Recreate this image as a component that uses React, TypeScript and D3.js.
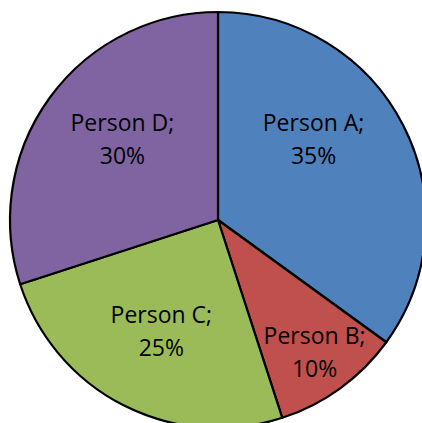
import { FC } from 'react';
import * as d3 from 'd3';

const people = ['Person A', 'Person B', 'Person C', 'Person D'];
const shares = [35, 10, 25, 30];
const sliceColors = ['#4F81BD', '#C0504D', '#9BBB59', '#8064A2'];

const width = 422;
const height = 423;
const cx = 218;
const cy = 220;
const radius = 208;
const lineHeight = 33;

const PieChart: FC = () => {
  const pie = d3.pie<number>().sort(null).value(d => d);
  const arcs = pie(shares);

  const arc = d3.arc<d3.PieArcDatum<number>>()
      .innerRadius(0)
      .outerRadius(radius);

  // Excel-ish best fit: narrow slices push the label outward,
  // and labels stay within 50deg of the vertical axis
  const labelPos = (d: d3.PieArcDatum<number>) => {
    const span = d.endAngle - d.startAngle;
    const r = span < Math.PI * 0.3 ? radius * 0.79 : radius * 0.6;
    let a = (d.startAngle + d.endAngle) / 2;
    const maxOff = (50 * Math.PI) / 180;
    const fromTop = Math.atan2(Math.sin(a), Math.cos(a)); // -pi..pi
    const off = Math.abs(fromTop) > Math.PI / 2 ? Math.PI - Math.abs(fromTop) : Math.abs(fromTop);
    if (off > maxOff) {
      const sx = Math.sign(Math.sin(a));
      const up = Math.cos(a) > 0;
      a = up ? sx * maxOff : sx * (Math.PI - maxOff);
    }
    return [r * Math.sin(a), -r * Math.cos(a)];
  };

  return (
      <svg width={width} height={height}
           style={{ position: 'absolute', left: 0, top: 0, background: '#fff' }}>
        <g transform={`translate(${cx},${cy})`}>
          {arcs.map((d, i) => (
              <path key={people[i]} d={arc(d) || ''} fill={sliceColors[i]}
                    stroke="#000" strokeWidth={2.2} strokeLinejoin="round" />
          ))}
          {arcs.map((d, i) => {
            const [lx, ly] = labelPos(d);
            return (
                <text key={'l' + i} x={lx} y={ly - 8.5} textAnchor="middle"
                      fontFamily="'Open Sans', sans-serif" fontSize={23} fill="#000">
                  <tspan x={lx}>{people[i]};</tspan>
                  <tspan x={lx} dy={lineHeight}>{shares[i]}%</tspan>
                </text>
            );
          })}
        </g>
      </svg>
  );
};

export default function App() {
  return <PieChart />;
}
